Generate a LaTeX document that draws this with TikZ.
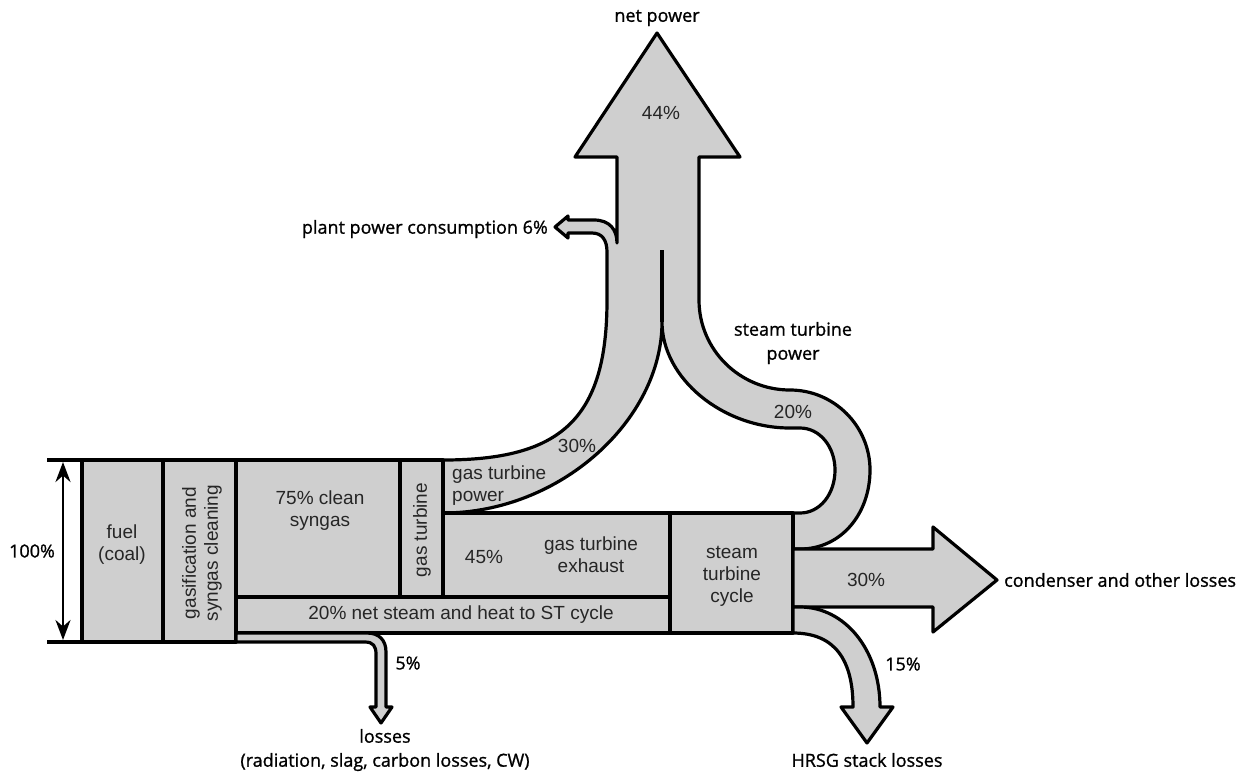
\documentclass[tikz,border=0pt]{standalone}
\usepackage{fontspec}
\setmainfont{Liberation Sans}
\newfontfamily\outerfont[FakeBold=1.1]{Open Sans}
\usetikzlibrary{arrows.meta}
\definecolor{flowgray}{RGB}{207,207,207}
\begin{document}
\begin{tikzpicture}[x=1pt,y=-1pt,
  flow/.style={fill=flowgray, draw=black, line width=3.2pt, line join=round},
  edge/.style={draw=black, line width=3.2pt},
  inlbl/.style={font=\fontsize{19}{22}\selectfont, align=center, inner sep=0pt, text=black!85},
  outlbl/.style={font=\outerfont\fontsize{18}{24}\selectfont, align=center, inner sep=0pt}]
\useasboundingbox (0,0) rectangle (1238,772);

% power network: GT power + ST power + net power arrow + plant consumption
\draw[flow] (443,460) .. controls (560,460) and (607,420) .. (607,300) -- (607,252)
  .. controls (607,240) and (602,233) .. (592,233) -- (568,233) -- (568,238) -- (555,227)
  -- (568,216) -- (568,220) -- (594,220) .. controls (610,220) and (617,230) .. (617,243)
  -- (617,157) -- (575,157) -- (657,33) -- (740,157) -- (699,157) -- (699,300)
  .. controls (699,350) and (740,390) .. (790,390)
  .. controls (834,390) and (870,426) .. (870,470)
  .. controls (870,514) and (841,549) .. (800,549) -- (793,549) -- (793,513) -- (800,513)
  .. controls (820,513) and (835,494) .. (835,470)
  .. controls (835,447) and (820,428) .. (800,428) -- (790,428)
  .. controls (722,428) and (662,378) .. (662,322)
  .. controls (662,420) and (560,513) .. (443,513) -- cycle;
\coordinate (splitTop) at (662,250);
\coordinate (splitBot) at (662,322);
\draw[edge] (splitTop) -- (splitBot);

% boxes
\draw[flow] (82,460) rectangle (163,642);
\draw[flow] (163,460) rectangle (236,642);
\draw[flow] (236,460) rectangle (400,597);
\draw[flow] (400,460) rectangle (443,597);
\draw[flow] (443,513) rectangle (670,597);
\draw[flow] (236,597) rectangle (670,633);
\draw[flow] (670,513) rectangle (793,633);

% 5% losses
\draw[flow] (236,633) -- (367,633) .. controls (379,633) and (386,640) .. (386,652)
  -- (386,707) -- (392,707) -- (381,723) -- (370,707) -- (376,707) -- (376,654)
  .. controls (376,646) and (373,642) .. (365,642) -- (236,642) -- cycle;

% condenser arrow
\draw[flow] (793,549) -- (933,549) -- (933,527) -- (997,580) -- (933,632) -- (933,607) -- (793,607) -- cycle;

% HRSG stack losses
\draw[flow] (793,607) -- (800,607) .. controls (845,607) and (880,650) .. (880,707)
  -- (893,707) -- (867,743) -- (841,707) -- (853,707)
  .. controls (853,660) and (835,633) .. (793,633) -- cycle;

% dimension lines
\coordinate (tl) at (47,460); \coordinate (tr) at (82,460);
\coordinate (bl) at (47,642); \coordinate (br) at (82,642);
\draw[edge] (tl) -- (tr);
\draw[edge] (bl) -- (br);
\coordinate (atop) at (63,462); \coordinate (abot) at (63,640);
\draw[line width=2.8pt, {Stealth[length=20pt,width=15pt]}-{Stealth[length=20pt,width=15pt]}] (atop) -- (abot);

% inner labels
\node[outlbl] (pct100) at (32,551) {100\%};
\node[inlbl] (fuel) at (122,545) {fuel\\(coal)};
\node[inlbl, rotate=90] (gasif) at (202,553) {gasification and\\syngas cleaning};
\node[inlbl] (syngas) at (320,511) {75\% clean\\syngas};
\node[inlbl, rotate=90] (gt) at (422,530) {gas turbine};
\node[inlbl, anchor=west, align=left] (gtp) at (452,486) {gas turbine\\power};
\node[inlbl] (p45) at (484,557) {45\%};
\node[inlbl] (gte) at (591,555) {gas turbine\\exhaust};
\node[inlbl] (stc) at (732,576) {steam\\turbine\\cycle};
\node[inlbl] (bar) at (461,615) {20\% net steam and heat to ST cycle};
\node[inlbl] (p30a) at (577,446) {30\%};
\node[inlbl] (p20) at (793,412) {20\%};
\node[inlbl] (p44) at (661,113) {44\%};
\node[inlbl] (p30b) at (866,580) {30\%};

% outer labels
\node[outlbl] (net) at (657,18) {net power};
\node[outlbl, anchor=east] (ppc) at (548,229) {plant power consumption 6\%};
\node[outlbl] (stp) at (793,343) {steam turbine\\power};
\node[outlbl, anchor=west] (cond) at (1004,580) {condenser and other losses};
\node[outlbl] (p15) at (903,664) {15\%};
\node[outlbl] (hrsg) at (867,760) {HRSG stack losses};
\node[outlbl] (p5) at (408,663) {5\%};
\node[outlbl] (loss) at (385,750) {losses\\(radiation, slag, carbon losses, CW)};
\end{tikzpicture}
\end{document}
